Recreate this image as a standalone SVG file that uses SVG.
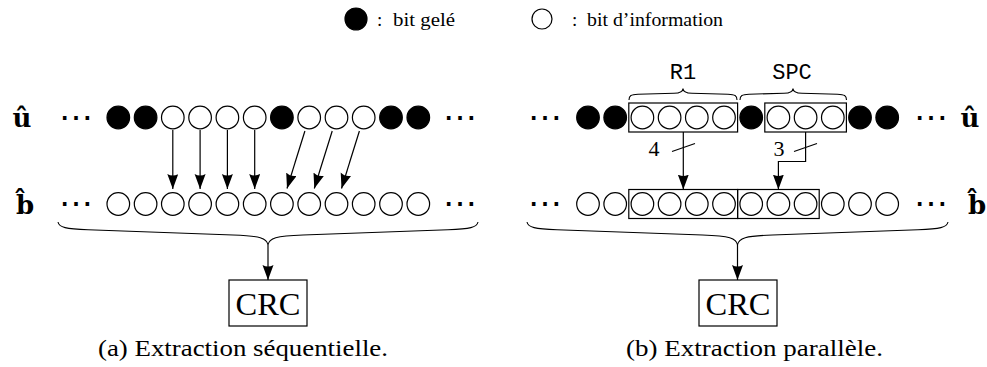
<svg xmlns="http://www.w3.org/2000/svg" width="987" height="367" viewBox="0 0 987 367">
<defs>
<style>
.f{fill:#000;stroke:#000;stroke-width:1.2}
.o{fill:#fff;stroke:#000;stroke-width:1.2}
.box{fill:none;stroke:#000;stroke-width:1.2}
.ln{fill:none;stroke:#000;stroke-width:1.2}
.ar{fill:none;stroke:#000;stroke-width:1.2;marker-end:url(#ah)}
.br{fill:none;stroke:#000;stroke-width:1.1}
.rm{font-family:"Liberation Serif",serif;fill:#000}
.tt{font-family:"Liberation Mono",monospace;font-size:22px;fill:#000;text-anchor:middle}
.vec{font-family:"DejaVu Serif",serif;font-weight:bold;font-size:26px;fill:#000;text-anchor:middle}
.dots{font-family:"DejaVu Serif",serif;font-size:34px;fill:#000;text-anchor:middle}
</style>
<marker id="ah" markerUnits="userSpaceOnUse" markerWidth="16" markerHeight="12" refX="15" refY="5.5" orient="auto">
<path d="M0,0 L15,5.5 L0,11 Q3,5.5 0,0 z" fill="#000"/>
</marker>
</defs>
<rect width="987" height="367" fill="#fff"/>

<g id="legend">
<circle class="f" cx="356" cy="19" r="11"/>
<text class="rm" x="377" y="26" font-size="19">:</text>
<text class="rm" x="393" y="26" font-size="19" textLength="62" lengthAdjust="spacingAndGlyphs">bit gelé</text>
<circle class="o" cx="542" cy="19" r="10"/>
<text class="rm" x="572" y="26" font-size="19">:</text>
<text class="rm" x="587" y="26" font-size="19" textLength="136" lengthAdjust="spacingAndGlyphs">bit d’information</text>
</g>

<g id="panel-a">
<g id="a-u-row">
<text class="vec" x="22" y="127">û</text>
<text class="dots" x="75.5" y="128.5">⋯</text>
<circle class="f" cx="118.3" cy="117.5" r="11.3"/>
<circle class="f" cx="145.6" cy="117.5" r="11.3"/>
<circle class="o" cx="172.8" cy="117.5" r="11.3"/>
<circle class="o" cx="200.1" cy="117.5" r="11.3"/>
<circle class="o" cx="227.4" cy="117.5" r="11.3"/>
<circle class="o" cx="254.7" cy="117.5" r="11.3"/>
<circle class="f" cx="281.9" cy="117.5" r="11.3"/>
<circle class="o" cx="309.2" cy="117.5" r="11.3"/>
<circle class="o" cx="336.5" cy="117.5" r="11.3"/>
<circle class="o" cx="363.7" cy="117.5" r="11.3"/>
<circle class="f" cx="391.0" cy="117.5" r="11.3"/>
<circle class="f" cx="418.3" cy="117.5" r="11.3"/>
<text class="dots" x="460" y="128.5">⋯</text>
</g>
<g id="a-b-row">
<text class="vec" x="25" y="214">b̂</text>
<text class="dots" x="75.5" y="215">⋯</text>
<circle class="o" cx="118.3" cy="204" r="11.3"/>
<circle class="o" cx="145.6" cy="204" r="11.3"/>
<circle class="o" cx="172.8" cy="204" r="11.3"/>
<circle class="o" cx="200.1" cy="204" r="11.3"/>
<circle class="o" cx="227.4" cy="204" r="11.3"/>
<circle class="o" cx="254.7" cy="204" r="11.3"/>
<circle class="o" cx="281.9" cy="204" r="11.3"/>
<circle class="o" cx="309.2" cy="204" r="11.3"/>
<circle class="o" cx="336.5" cy="204" r="11.3"/>
<circle class="o" cx="363.7" cy="204" r="11.3"/>
<circle class="o" cx="391.0" cy="204" r="11.3"/>
<circle class="o" cx="418.3" cy="204" r="11.3"/>
<text class="dots" x="460" y="215">⋯</text>
</g>
<g id="a-crc">
<rect class="box" x="229" y="280" width="78" height="46"/>
<text class="rm" x="268" y="315" font-size="31" text-anchor="middle" textLength="65" lengthAdjust="spacingAndGlyphs">CRC</text>
</g>
<text id="a-caption" class="rm" x="98" y="356" font-size="24" textLength="290" lengthAdjust="spacingAndGlyphs">(a) Extraction séquentielle.</text>
</g>

<g id="panel-b">
<g id="b-u-row">
<text class="dots" x="545" y="128.5">⋯</text>
<circle class="f" cx="588" cy="117.5" r="11.3"/>
<circle class="f" cx="615.2" cy="117.5" r="11.3"/>
<circle class="o" cx="642.4" cy="117.5" r="11.3"/>
<circle class="o" cx="669.6" cy="117.5" r="11.3"/>
<circle class="o" cx="696.8" cy="117.5" r="11.3"/>
<circle class="o" cx="724" cy="117.5" r="11.3"/>
<circle class="f" cx="751.2" cy="117.5" r="11.3"/>
<circle class="o" cx="778.4" cy="117.5" r="11.3"/>
<circle class="o" cx="805.6" cy="117.5" r="11.3"/>
<circle class="o" cx="832.8" cy="117.5" r="11.3"/>
<circle class="f" cx="860" cy="117.5" r="11.3"/>
<circle class="f" cx="887.2" cy="117.5" r="11.3"/>
<text class="dots" x="931" y="128.5">⋯</text>
<text class="vec" x="970" y="127">û</text>
</g>
<g id="R1">
<rect class="box" x="628.8" y="103" width="108.8" height="29"/>
<path class="br" d="M629,100 C629,95.5 631,94.5 638,94.2 L674,93.3 C680,93.1 683,92 683,88.5 C683,92 686,93.1 692,93.3 L728,94.2 C735,94.5 737,95.5 737,100"/>
<text class="tt" x="683" y="79">R1</text>
</g>
<g id="SPC">
<rect class="box" x="764.8" y="103" width="81.6" height="29"/>
<path class="br" d="M740,100 C740,95.5 742,94.5 749,94.2 L784,93.3 C790,93.1 793,92 793,88.5 C793,92 796,93.1 802,93.3 L837.5,94.2 C844.5,94.5 846.5,95.5 846.5,100"/>
<text class="tt" x="792" y="79">SPC</text>
</g>
<g id="b-b-row">
<text class="dots" x="545" y="215">⋯</text>
<circle class="o" cx="588" cy="204" r="11.3"/>
<circle class="o" cx="615.2" cy="204" r="11.3"/>
<rect class="box" x="628.8" y="189.5" width="108.8" height="29"/>
<circle class="o" cx="642.4" cy="204" r="11.3"/>
<circle class="o" cx="669.6" cy="204" r="11.3"/>
<circle class="o" cx="696.8" cy="204" r="11.3"/>
<circle class="o" cx="724" cy="204" r="11.3"/>
<rect class="box" x="737.6" y="189.5" width="81.6" height="29"/>
<circle class="o" cx="751.2" cy="204" r="11.3"/>
<circle class="o" cx="778.4" cy="204" r="11.3"/>
<circle class="o" cx="805.6" cy="204" r="11.3"/>
<circle class="o" cx="832.8" cy="204" r="11.3"/>
<circle class="o" cx="860" cy="204" r="11.3"/>
<circle class="o" cx="887.2" cy="204" r="11.3"/>
<text class="dots" x="931" y="215">⋯</text>
<text class="vec" x="977" y="214">b̂</text>
</g>
<g id="b-crc">
<rect class="box" x="699" y="280" width="78" height="46"/>
<text class="rm" x="738" y="315" font-size="31" text-anchor="middle" textLength="65" lengthAdjust="spacingAndGlyphs">CRC</text>
</g>
<text id="b-caption" class="rm" x="626" y="356" font-size="24" textLength="257" lengthAdjust="spacingAndGlyphs">(b) Extraction parallèle.</text>
</g>

<g id="connectors">
<line class="ar" x1="172.8" y1="130" x2="172.8" y2="189"/>
<line class="ar" x1="200.1" y1="130" x2="200.1" y2="189"/>
<line class="ar" x1="227.4" y1="130" x2="227.4" y2="189"/>
<line class="ar" x1="254.7" y1="130" x2="254.7" y2="189"/>
<line class="ar" x1="304.9" y1="131" x2="287" y2="188.5"/>
<line class="ar" x1="332.2" y1="131" x2="314.3" y2="188.5"/>
<line class="ar" x1="359.4" y1="131" x2="341.5" y2="188.5"/>
<path class="br" d="M58,222 C59,227.5 66,229 88,229.7 L233,235 C260,235.8 267,238 268,245 C269,238 276,235.8 303,235 L448,229.7 C470,229 477,227.5 478,222"/>
<line class="ar" x1="268" y1="245" x2="268" y2="280"/>
<line class="ar" x1="683.3" y1="132" x2="683.3" y2="189.5"/>
<line class="ln" x1="672" y1="151.5" x2="695" y2="143.5"/>
<text class="rm" x="654" y="156" font-size="22" text-anchor="middle">4</text>
<polyline class="ar" points="805.6,132 805.6,161.5 778.4,161.5 778.4,189.5"/>
<line class="ln" x1="794" y1="151.5" x2="817" y2="143.5"/>
<text class="rm" x="779" y="156" font-size="22" text-anchor="middle">3</text>
<path class="br" d="M527,222 C528,227.5 535,229 557,229.7 L702.5,235 C729.5,235.8 736.5,238 737.5,245 C738.5,238 745.5,235.8 772.5,235 L918,229.7 C940,229 947,227.5 948,222"/>
<line class="ar" x1="737.5" y1="245" x2="737.5" y2="280"/>
</g>
</svg>
